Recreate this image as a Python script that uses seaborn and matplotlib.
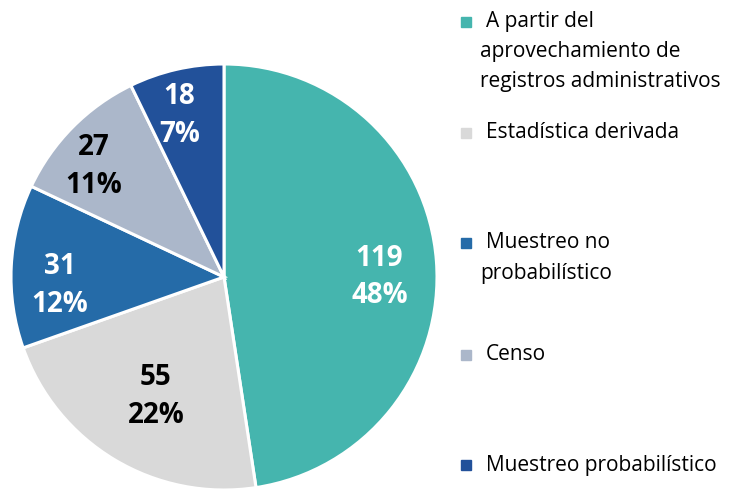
import matplotlib
matplotlib.use("Agg")
import matplotlib.pyplot as plt
import seaborn as sns
from matplotlib.patches import Rectangle

# --- Data ---
categories = [
    "A partir del\naprovechamiento de\nregistros administrativos",
    "Estadística derivada",
    "Muestreo no\nprobabilístico",
    "Censo",
    "Muestreo probabilístico",
]
counts = [119, 55, 31, 27, 18]
colors = ["#45B5AE", "#D9D9D9", "#256BA8", "#ABB7CA", "#22519A"]

# estilo de etiquetas (posición en unidades del radio)
label_colors = ["white", "black", "white", "black", "white"]
label_pos = [(0.73, 0.0), (-0.32, -0.56), (-0.77, -0.04), (-0.61, 0.52), (-0.21, 0.76)]

sns.set_theme(style="white")
plt.rcParams['font.family'] = ['Open Sans', 'DejaVu Sans']

fig = plt.figure(figsize=(7.40, 4.91), dpi=100)
W, H = 740, 491
cx, cy, r = 224, 277, 213
ax = fig.add_axes([(cx - r) / W, 1 - (cy + r) / H, 2 * r / W, 2 * r / H])

wedges, _ = ax.pie(counts, colors=colors, startangle=90, counterclock=False,
                   wedgeprops=dict(edgecolor="white", linewidth=2.2))
ax.set_xlim(-1, 1)
ax.set_ylim(-1, 1)
ax.set_aspect("equal")

total = sum(counts)
for n, c, (x, y) in zip(counts, label_colors, label_pos):
    pct = round(100 * n / total)
    ax.text(x, y, f"{n}\n{pct}%", ha="center", va="center",
            color=c, fontsize=20, fontweight="bold", linespacing=1.4)

# --- Legend (manual, entries top-aligned) ---
leg_y = [22, 133, 243, 355, 465]
for lab, col, y in zip(categories, colors, leg_y):
    fig.patches.append(Rectangle((461 / W, 1 - (y + 5) / H), 10 / W, 10 / H,
                                 transform=fig.transFigure, color=col))
    first, *rest = lab.split("\n")
    fig.text(486 / W, 1 - y / H, first, ha="left", va="center",
             fontsize=15, color="black")
    for i, line in enumerate(rest):
        fig.text(480 / W, 1 - (y + 30 * (i + 1)) / H, line, ha="left", va="center",
                 fontsize=15, color="black")

fig.savefig("out.png", dpi=100)
